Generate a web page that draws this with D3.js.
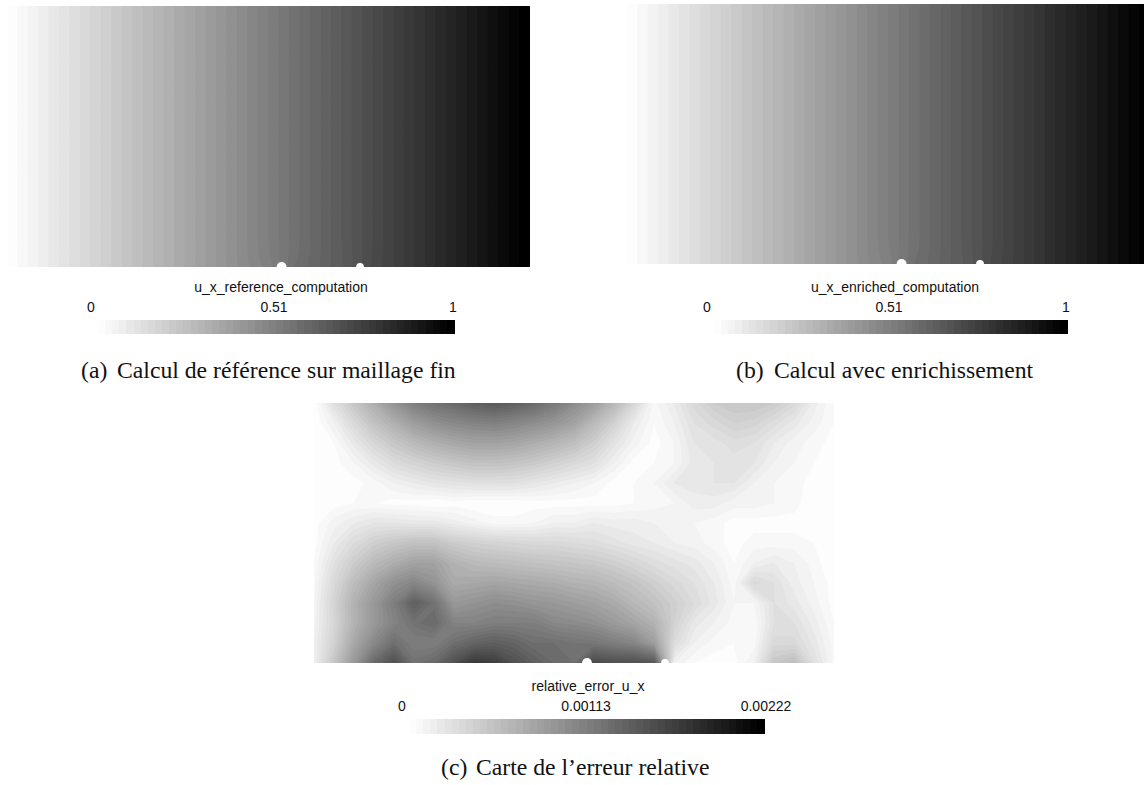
<!DOCTYPE html>
<html>
<head>
<meta charset="utf-8">
<script src="https://cdn.jsdelivr.net/npm/d3@7"></script>
<style>
  html, body { margin: 0; padding: 0; background: #fff; overflow: hidden; }
  .bar_text { font-family: "Liberation Sans", sans-serif; font-size: 14px; fill: #111; }
  .caption { font-family: "Liberation Serif", serif; font-size: 23.7px; fill: #111; }
</style>
</head>
<body>
<svg id="chart" width="1144" height="785"></svg>
<script>
const panel_names = ["u_x_reference_computation", "u_x_enriched_computation", "relative_error_u_x"]
const panel_ticks = [["0", "0.51", "1"], ["0", "0.51", "1"], ["0", "0.00113", "0.00222"]]
const panel_tags = ["(a)", "(b)", "(c)"]
const panel_captions = ["Calcul de référence sur maillage fin", "Calcul avec enrichissement", "Carte de l’erreur relative"]

// holes on the lower edge, in plate coordinates (plate is 2 x 1)
const hole_x = [1.05, 1.35]
const hole_r = [0.019, 0.015]

// u_x read along the plate, 41 samples left to right
const ux_far_row = [0, .025, .05, .075, .1, .125, .15, .175, .2, .225, .25, .275, .3, .325, .35, .375, .4, .425, .45, .475, .5,
    .525, .55, .575, .6, .625, .65, .675, .7, .725, .75, .775, .8, .825, .85, .875, .9, .925, .95, .975, 1]
const ux_near_row = [0, .025, .05, .075, .1, .125, .15, .175, .2, .225, .25, .275, .3, .325, .35, .375, .4, .425, .45, .474, .497,
    .525, .553, .576, .6, .625, .648, .675, .702, .725, .75, .775, .8, .825, .85, .875, .9, .925, .95, .975, 1]
const ux_bottom_row = [0, .025, .05, .075, .1, .125, .15, .175, .2, .225, .25, .275, .3, .325, .35, .375, .4, .425, .447, .47, .49,
    .525, .56, .58, .602, .625, .645, .675, .705, .727, .75, .775, .8, .825, .85, .875, .9, .925, .95, .975, 1]

// error map, percent of the colour bar maximum, 27 columns x 14 rows
const err_rows = [
    [0, 12, 22, 32, 42, 50, 55, 58, 62, 64, 62, 58, 52, 45, 38, 28, 16, 3, 8, 15, 20, 22, 22, 20, 15, 7, 2],
    [0, 6, 15, 24, 31, 38, 43, 46, 48, 49, 47, 44, 41, 36, 27, 18, 8, 2, 6, 12, 15, 18, 17, 13, 9, 5, 2],
    [0, 2, 9, 16, 22, 27, 31, 34, 36, 36, 35, 32, 29, 25, 19, 11, 5, 1, 4, 10, 11, 13, 12, 8, 5, 3, 1],
    [0, 1, 4, 9, 14, 17, 20, 22, 24, 24, 23, 21, 18, 15, 12, 6, 1, 2, 4, 9, 10, 11, 10, 6, 4, 2, 0],
    [0, 0, 1, 3, 6, 8, 10, 11, 12, 12, 12, 10, 8, 6, 4, 1, 2, 4, 8, 9, 10, 10, 6, 4, 3, 1, 0],
    [0, 1, 2, 2, 1, 1, 0, 1, 0, 0, 0, 1, 1, 1, 1, 1, 2, 3, 4, 7, 7, 5, 5, 4, 3, 0, 0],
    [1, 5, 8, 10, 10, 9, 9, 7, 5, 3, 3, 4, 6, 6, 8, 7, 7, 6, 5, 4, 3, 1, 1, 1, 1, 1, 0],
    [1, 8, 14, 19, 22, 24, 24, 20, 18, 17, 16, 15, 15, 14, 13, 11, 9, 8, 6, 5, 3, 1, 3, 3, 3, 2, 0],
    [2, 12, 20, 27, 32, 36, 36, 30, 27, 26, 25, 24, 23, 22, 21, 19, 16, 13, 11, 9, 6, 2, 6, 8, 6, 3, 0],
    [3, 15, 26, 35, 43, 47, 42, 33, 34, 35, 34, 33, 32, 30, 29, 26, 23, 19, 15, 12, 8, 3, 15, 12, 7, 4, 1],
    [4, 17, 30, 40, 50, 62, 55, 40, 42, 44, 43, 41, 40, 38, 36, 33, 28, 24, 19, 14, 9, 4, 4, 12, 9, 5, 1],
    [5, 16, 30, 40, 48, 55, 58, 48, 48, 50, 50, 50, 46, 45, 43, 39, 35, 30, 18, 9, 6, 3, 2, 12, 12, 7, 2],
    [6, 18, 34, 46, 56, 50, 50, 56, 60, 62, 60, 56, 56, 54, 53, 50, 47, 38, 14, 6, 3, 2, 3, 15, 15, 9, 3],
    [6, 22, 40, 58, 68, 55, 58, 68, 77, 75, 68, 62, 58, 56, 70, 68, 68, 65, 6, 2, 1, 1, 6, 22, 25, 12, 3]
]

const N_LEVELS = 50
const levels = d3.range(N_LEVELS)
const gray = d3.scaleLinear().domain([0, N_LEVELS - 1]).range(["#fdfdfd", "#000000"])

const ux_rows = d3.range(19).map(() => ux_far_row).concat([ux_near_row, ux_bottom_row])

const panels = [
    { rows: ux_rows, max: 1, x0: 7, x1: 530, y0: 6, y1: 267, bar: [98, 454, 320, 334], title_x: 281, title_y: 292,
      tick_x: [91, 274, 453], tick_y: 312, cap_x: 81, cap_tx: 117, cap_y: 378 },
    { rows: ux_rows, max: 1, x0: 627, x1: 1150, y0: 4, y1: 264, bar: [714, 1067, 320, 334], title_x: 895, title_y: 292,
      tick_x: [707, 889, 1066], tick_y: 312, cap_x: 736, cap_tx: 774, cap_y: 378 },
    { rows: err_rows, max: 100, x0: 314, x1: 834, y0: 403, y1: 663, bar: [409, 764, 719, 734], title_x: 588, title_y: 691,
      tick_x: [402, 586, 766], tick_y: 711, cap_x: 441, cap_tx: 476, cap_y: 775 }
]

const svg = d3.select("#chart")

panels.forEach((p, i) => {
    const g = svg.append("g").attr("class", "panel")
    const clip_id = "clip_" + i
    const n_cols = p.rows[0].length
    const n_rows = p.rows.length

    svg.append("clipPath").attr("id", clip_id)
        .append("rect")
        .attr("x", p.x0).attr("y", p.y0)
        .attr("width", p.x1 - p.x0).attr("height", p.y1 - p.y0)

    // repeat the edge samples, d3.contours otherwise cuts the corners of the field
    const padded = [p.rows[0], ...p.rows, p.rows[n_rows - 1]]
        .flatMap(row => [row[0], ...row, row[n_cols - 1]])

    const thresholds = levels.map(l => l / N_LEVELS * p.max)
    const contours = d3.contours()
        .size([n_cols + 2, n_rows + 2])
        .thresholds(thresholds)(padded)

    // contour coordinates sit half a cell off the sample index
    const cx = d3.scaleLinear().domain([1.5, n_cols + 0.5]).range([p.x0, p.x1])
    const cy = d3.scaleLinear().domain([1.5, n_rows + 0.5]).range([p.y0, p.y1])
    const to_screen = d3.geoTransform({
        point: function (x, y) { this.stream.point(cx(x), cy(y)) }
    })
    const path = d3.geoPath().projection(to_screen)

    g.append("g").attr("clip-path", `url(#${clip_id})`)
        .selectAll("path")
        .data(contours)
        .enter()
        .append("path")
        .attr("d", path)
        .attr("fill", (d, k) => gray(k))
        .attr("stroke", (d, k) => gray(k))
        .attr("stroke-width", 0.3)

    // holes
    const plate_x = d3.scaleLinear().domain([0, 2]).range([p.x0, p.x1])
    g.selectAll("circle")
        .data(hole_x)
        .enter()
        .append("circle")
        .attr("cx", d => plate_x(d))
        .attr("cy", p.y1)
        .attr("r", (d, k) => plate_x(hole_r[k]) - plate_x(0))
        .attr("fill", "#fff")

    // colour bar
    const bar_x = d3.scaleBand().domain(levels).range([p.bar[0], p.bar[1]])
    g.append("g").attr("shape-rendering", "crispEdges").selectAll("rect")
        .data(levels)
        .enter()
        .append("rect")
        .attr("x", d => bar_x(d))
        .attr("y", p.bar[2])
        .attr("width", bar_x.bandwidth() + 0.5)
        .attr("height", p.bar[3] - p.bar[2])
        .attr("fill", d => gray(d))

    g.append("text").attr("class", "bar_text")
        .attr("x", p.title_x).attr("y", p.title_y)
        .attr("text-anchor", "middle")
        .text(panel_names[i])

    g.selectAll(".tick_label")
        .data(panel_ticks[i])
        .enter()
        .append("text")
        .attr("class", "bar_text tick_label")
        .attr("x", (d, k) => p.tick_x[k])
        .attr("y", p.tick_y)
        .attr("text-anchor", "middle")
        .text(d => d)

    g.append("text").attr("class", "caption")
        .attr("x", p.cap_x).attr("y", p.cap_y)
        .text(panel_tags[i])
    g.append("text").attr("class", "caption")
        .attr("x", p.cap_tx).attr("y", p.cap_y)
        .text(panel_captions[i])
})
</script>
</body>
</html>
